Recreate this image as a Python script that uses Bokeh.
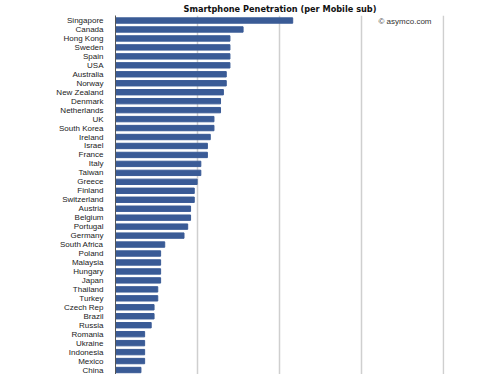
from bokeh.plotting import figure
from bokeh.models import ColumnDataSource, FixedTicker, Range1d, Label
from bokeh.embed import file_html
from bokeh.resources import INLINE

countries = ["Singapore", "Canada", "Hong Kong", "Sweden", "Spain", "USA", "Australia",
             "Norway", "New Zealand", "Denmark", "Netherlands", "UK", "South Korea",
             "Ireland", "Israel", "France", "Italy", "Taiwan", "Greece", "Finland",
             "Switzerland", "Austria", "Belgium", "Portugal", "Germany", "South Africa",
             "Poland", "Malaysia", "Hungary", "Japan", "Thailand", "Turkey", "Czech Rep",
             "Brazil", "Russia", "Romania", "Ukraine", "Indonesia", "Mexico", "China"]
penetration = [43.2, 31.1, 27.9, 27.9, 27.9, 27.9, 27.0,
               27.0, 26.3, 25.6, 25.6, 24.0, 24.0,
               23.1, 22.4, 22.4, 20.8, 20.8, 19.9, 19.2,
               19.2, 18.3, 18.3, 17.6, 16.7, 12.0,
               11.0, 11.0, 11.0, 11.0, 10.3, 10.3, 9.4,
               9.4, 8.7, 7.1, 7.1, 7.1, 7.1, 6.2]
grid_ticks = [20, 40, 60, 80]

n = len(countries)
ypos = [n - 1 - i for i in range(n)]
src = ColumnDataSource(dict(y=ypos, v=penetration, name=countries))

W, H = 495, 374
p = figure(width=W, height=H, output_backend="svg", toolbar_location=None,
           x_range=Range1d(0, 80.2), y_range=Range1d(-0.5, 39.56),
           min_border_left=115, min_border_right=W - 444, min_border_top=14, min_border_bottom=0,
           title="Smartphone Penetration (per Mobile sub)")
p.hbar(y="y", right="v", left=0, height=0.6, source=src, color="#3a5b96")

p.title.align = "center"
p.title.text_font = "DejaVu Sans"
p.title.text_font_size = "8.2px"
p.title.text_font_style = "bold"
p.title.text_color = "#111111"
p.title.standoff = 3

p.xaxis.visible = False
p.xgrid.ticker = FixedTicker(ticks=grid_ticks)
p.xgrid.grid_line_color = "#cfcfcf"
p.xgrid.grid_line_width = 1.5
p.ygrid.visible = False
p.outline_line_color = None

p.yaxis.ticker = FixedTicker(ticks=ypos)
p.yaxis.major_label_overrides = {y: c for y, c in zip(ypos, countries)}
p.yaxis.major_tick_line_color = None
p.yaxis.minor_tick_line_color = None
p.yaxis.axis_line_color = "#555555"
p.yaxis.axis_line_width = 1
p.yaxis.major_label_text_font = "Liberation Sans"
p.yaxis.major_label_text_font_size = "8px"
p.yaxis.major_label_text_color = "#222222"
p.yaxis.major_label_standoff = 6

c = Label(x=378 - 115, y=(H - 14) - 7, x_units="screen", y_units="screen",
          text="© asymco.com", text_font="Liberation Sans", text_font_size="8px",
          text_align="left", text_baseline="middle", text_color="#333333")
p.add_layout(c)

open("out.html", "w").write(file_html(p, INLINE))
